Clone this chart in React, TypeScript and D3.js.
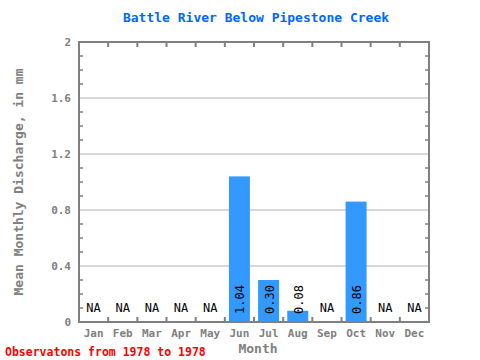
import React from "react";
import * as d3 from "d3";

const months = ["Jan","Feb","Mar","Apr","May","Jun","Jul","Aug","Sep","Oct","Nov","Dec"];
const values: (number | null)[] = [null,null,null,null,null,1.04,0.30,0.08,null,0.86,null,null];
const valueLabels = ["NA","NA","NA","NA","NA","1.04","0.30","0.08","NA","0.86","NA","NA"];
const yTicks = [0,0.4,0.8,1.2,1.6,2];
const yTickLabels = ["0","0.4","0.8","1.2","1.6","2"];
const yMinor = [0.1,0.2,0.3,0.5,0.6,0.7,0.9,1.0,1.1,1.3,1.4,1.5,1.7,1.8,1.9];

const W = 480, H = 360;
const L = 79, R = 429, T = 42, B = 322;
const mono = "'DejaVu Sans Mono', monospace";

export default function App() {
  const x = d3.scaleBand<string>().domain(months).range([L, R]).paddingInner(0.28).paddingOuter(0.14);
  const xb = d3.scaleBand<string>().domain(months).range([L, R]);
  const y = d3.scaleLinear().domain([0, 2]).range([B, T]);
  const gray = "#808080";
  const labelGray = "#808080";
  return (
    <svg width={W} height={H} style={{ position: "absolute", left: 0, top: 0 }}>
      <rect x={0} y={0} width={W} height={H} fill="white" />
      <text x={256} y={22} textAnchor="middle" fill="#0066ff" fontFamily={mono} fontWeight="bold" fontSize={13}>Battle River Below Pipestone Creek</text>
      {yTicks.filter(t => t > 0 && t < 2).map(t => (
        <line key={"g"+t} x1={L} x2={R} y1={y(t)} y2={y(t)} stroke="#b0b0b0" strokeWidth={1} />
      ))}
      {values.map((v, i) => v == null ? null : (
        <rect key={"b"+i} x={x(months[i])} y={y(v)} width={x.bandwidth()} height={B - y(v)} fill="#3399ff" />
      ))}
      {values.map((v, i) => v == null ? (
        <text key={"l"+i} x={(xb(months[i]) as number) + xb.bandwidth()/2} y={308} textAnchor="middle" dominantBaseline="central" fontFamily={mono} fontSize={12} fill="black">{valueLabels[i]}</text>
      ) : (
        <text key={"l"+i} transform={`translate(${(xb(months[i]) as number) + xb.bandwidth()/2 + 1},${314}) rotate(-90)`} textAnchor="start" dominantBaseline="central" fontFamily={mono} fontSize={12} fill="black">{valueLabels[i]}</text>
      ))}
      {yMinor.map(t => (
        <g key={"m"+t}>
          <line x1={L} x2={L+4} y1={y(t)} y2={y(t)} stroke={gray} strokeWidth={1.5} />
          <line x1={R-4} x2={R} y1={y(t)} y2={y(t)} stroke={gray} strokeWidth={1.5} />
        </g>
      ))}
      {months.slice(1).map(m => (
        <g key={"xt"+m}>
          <line x1={xb(m)} x2={xb(m)} y1={B} y2={B-5} stroke={gray} strokeWidth={2} />
          <line x1={xb(m)} x2={xb(m)} y1={T} y2={T+5} stroke={gray} strokeWidth={2} />
        </g>
      ))}
      <rect x={L} y={T} width={R-L} height={B-T} fill="none" stroke={gray} strokeWidth={2} />
      {yTicks.map((t, i) => (
        <text key={"yl"+t} x={71} y={y(t)} textAnchor="end" dominantBaseline="central" fontFamily={mono} fontWeight="bold" fontSize={11} fill={labelGray}>{yTickLabels[i]}</text>
      ))}
      {months.map(m => (
        <text key={"xl"+m} x={(xb(m) as number) + xb.bandwidth()/2} y={333} textAnchor="middle" dominantBaseline="central" fontFamily={mono} fontWeight="bold" fontSize={11} fill={labelGray}>{m}</text>
      ))}
      <text x={258} y={348} textAnchor="middle" dominantBaseline="central" fontFamily={mono} fontWeight="bold" fontSize={13} fill={labelGray}>Month</text>
      <text transform={`translate(18,182) rotate(-90)`} textAnchor="middle" dominantBaseline="central" fontFamily={mono} fontWeight="bold" fontSize={13} fill={labelGray}>Mean Monthly Discharge, in mm</text>
      <text x={5} y={352} dominantBaseline="central" fontFamily={mono} fontWeight="bold" fontSize={11.5} fill="#ff0000">Observatons from 1978 to 1978</text>
    </svg>
  );
}
